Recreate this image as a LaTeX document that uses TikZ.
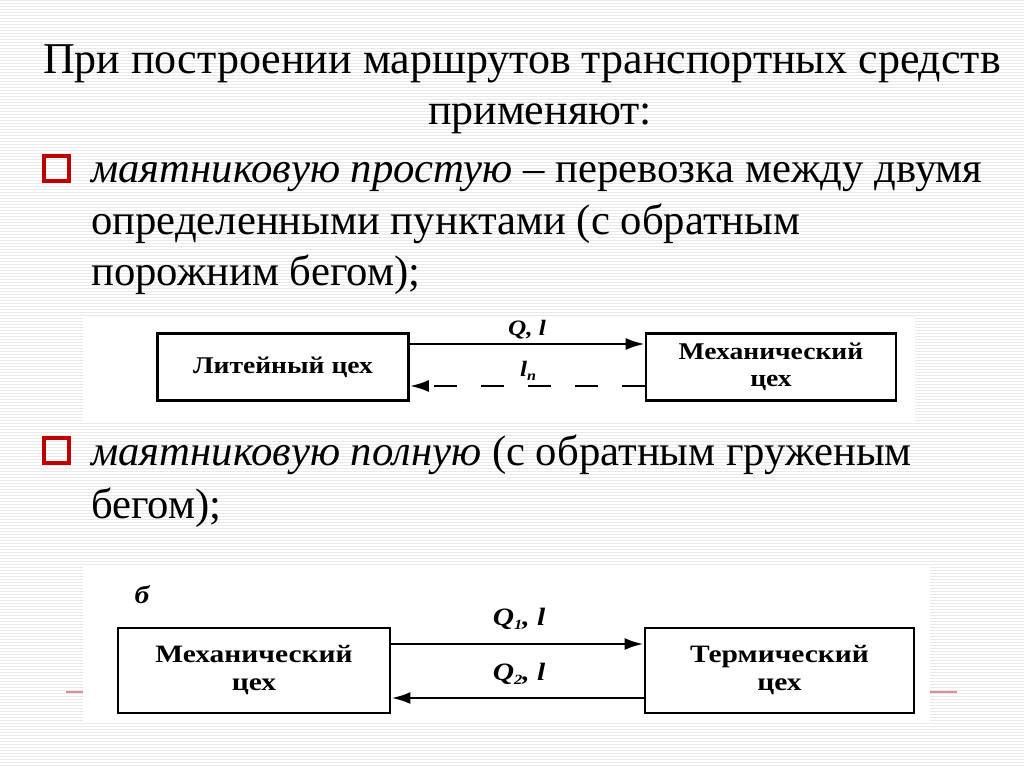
\documentclass[tikz,border=0pt]{standalone}
\usepackage{fontspec}
\setmainfont{Liberation Serif}
\newfontfamily\diagfont[FakeStretch=1.15]{Liberation Serif}
\newfontfamily\diagfontwide[FakeStretch=1.18]{Liberation Serif}
\usetikzlibrary{arrows.meta}
\definecolor{bulletred}{HTML}{C00000}
\definecolor{stripe}{HTML}{E9E9E9}
\definecolor{footred}{HTML}{D89090}
\newcommand{\lowsub}[1]{\raisebox{-0.35ex}{\fontsize{14}{14}\selectfont #1}}
\tikzset{
  titletext/.style={font=\fontsize{44}{44}\selectfont, anchor=base, inner sep=0pt},
  bodytext/.style={font=\fontsize{42.7}{42.7}\selectfont, anchor=base west, inner sep=0pt},
  bulletbox/.style={draw=bulletred, line width=4pt, minimum size=25pt, inner sep=0pt},
  panel/.style={fill=white, draw=none},
  shopbox/.style={draw, line width=2.6pt, inner sep=0pt, align=center,
    font=\diagfont\bfseries\fontsize{24}{27}\selectfont},
  shopboxb/.style={draw, line width=2.8pt, inner sep=0pt, align=center,
    font=\diagfontwide\bfseries\fontsize{25}{28}\selectfont},
  flow/.style={line width=2.6pt, -{Latex[length=19pt,width=12pt]}},
  flowlabel/.style={font=\diagfont\bfseries\itshape\fontsize{22}{22}\selectfont, inner sep=0pt},
  flowlabelb/.style={font=\diagfontwide\bfseries\itshape\fontsize{25}{25}\selectfont, inner sep=0pt}
}
\begin{document}
\begin{tikzpicture}[x=1pt,y=-1pt]
\useasboundingbox (0,0) rectangle (1024,767);
\fill[white] (0,0) rectangle (1024,767);
\foreach \i in {0,3,...,765} {\fill[stripe] (0,\i) rectangle (1024,\i+1.2);}
% footer line behind lower panel
\draw[footred, line width=1.2pt] (66,692) -- (957,692);
% title
\node[titletext] (t1) at (522,74) {При построении маршрутов транспортных средств};
\node[titletext] (t2) at (540,125) {применяют:};
% bullet 1
\node[bulletbox] (b1) at (56.5,168.5) {};
\node[bodytext] (l1) at (91,183) {\textit{маятниковую простую} – перевозка между двумя};
\node[bodytext] (l2) at (91,234) {определенными пунктами (с обратным};
\node[bodytext] (l3) at (91,285) {порожним бегом);};
% diagram 1
\fill[panel] (83,318) rectangle (915,421);
\node[shopbox, minimum width=251pt, minimum height=67pt] (lit) at (283,367) {Литейный цех};
\node[shopbox, minimum width=250pt, minimum height=67pt] (mech1) at (771,367) {Механический\\цех};
\draw[flow] (lit.east |- 0,344) -- (mech1.west |- 0,344);
\draw[flow, dash pattern=on 23pt off 24pt] (mech1.west |- 0,386) -- (lit.east |- 0,386);
\node[flowlabel] (q1) at (527,330) {Q, l};
\node[flowlabel] (lp) at (528,371) {l\lowsub{п}};
% bullet 2
\node[bulletbox] (b2) at (56.5,450) {};
\node[bodytext] (m1) at (91,465) {\textit{маятниковую полную} (с обратным груженым};
\node[bodytext] (m2) at (91,518) {бегом);};
% diagram 2
\fill[panel] (83,567) rectangle (930,722);
\node[flowlabelb] (lb) at (142,595) {б};
\node[shopboxb, minimum width=272pt, minimum height=85pt] (mech2) at (254,670.5) {Механический\\цех};
\node[shopboxb, minimum width=269pt, minimum height=85pt] (term) at (779.5,670.5) {Термический\\цех};
\draw[flow, line width=2.8pt] (mech2.east |- 0,644) -- (term.west |- 0,644);
\draw[flow, line width=2.8pt] (term.west |- 0,698) -- (mech2.east |- 0,698);
\node[flowlabelb] (q2a) at (519,619) {Q\lowsub{1}, l};
\node[flowlabelb] (q2b) at (519,674) {Q\lowsub{2}, l};
\end{tikzpicture}
\end{document}
